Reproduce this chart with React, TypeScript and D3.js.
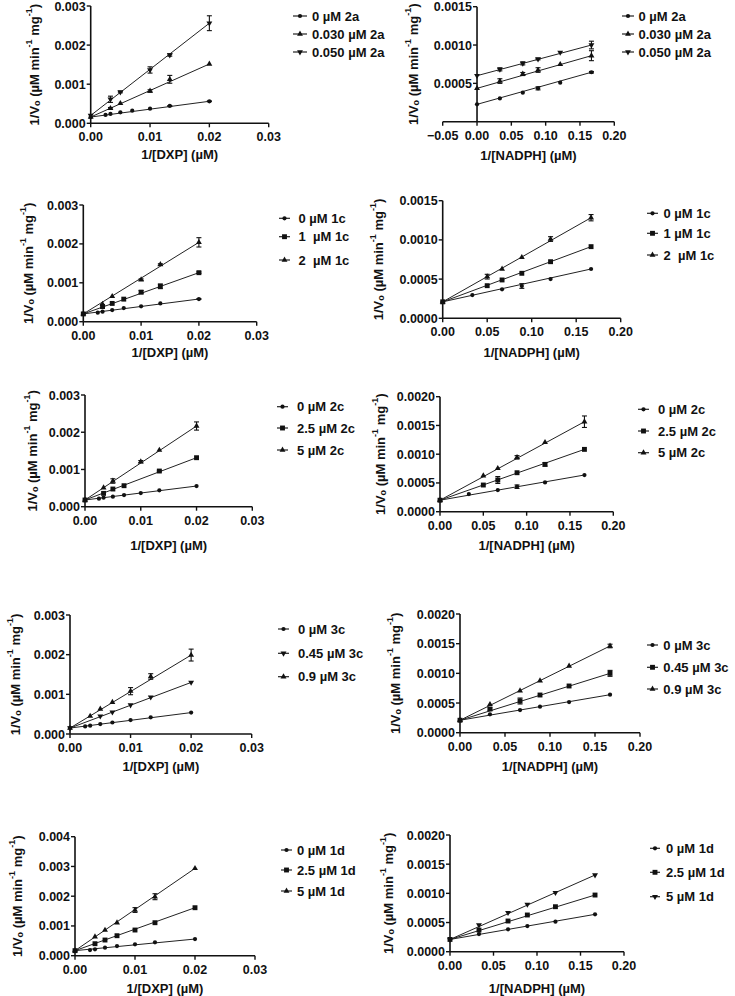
import React from 'react';
import * as d3 from 'd3';

// ---------- shared x values ----------
const dxpX7 = [0.0025, 0.00333, 0.005, 0.007, 0.01, 0.01333, 0.02];
const dxpX6 = [0.00333, 0.005, 0.007, 0.01, 0.01333, 0.02];
const dxpX5 = [0.00333, 0.005, 0.01, 0.01333, 0.02];
const dxpX5b = [0.00333, 0.005, 0.007, 0.01333, 0.02];
const dxpX5c = [0.005, 0.007, 0.01, 0.01333, 0.02];
const nadX5 = [0.0333, 0.0667, 0.0889, 0.1212, 0.1667];
const nadX5b = [0.05, 0.0667, 0.0889, 0.1212, 0.1667];

// ---------- tick values ----------
const dxpTicks = [0, 0.01, 0.02, 0.03];
const nadTicks = [0, 0.05, 0.1, 0.15, 0.2];
const nadTicksNeg = [-0.05, 0, 0.05, 0.1, 0.15, 0.2];
const yTicks003 = [0, 0.001, 0.002, 0.003];
const yTicks004 = [0, 0.001, 0.002, 0.003, 0.004];
const yTicks0015 = [0, 0.0005, 0.001, 0.0015];
const yTicks0015b = [0.0005, 0.001, 0.0015];
const yTicks002 = [0, 0.0005, 0.001, 0.0015, 0.002];

type Series = { label: string; x: number[]; y: number[]; err: number[]; y0: number };

// ---------- panel 1: DXP, 2a ----------
const p1Series: Series[] = [
  { label: '0 µM 2a', x: dxpX7, y: [0.000213, 0.000239, 0.000281, 0.000324, 0.000375, 0.000443, 0.000563], err: [0, 0, 0, 0, 0, 0.00001, 0.00001], y0: 0.00016 },
  { label: '0.030 µM 2a', x: dxpX5, y: [0.000384, 0.000511, 0.000827, 0.001125, 0.001517], err: [0.00002, 0, 0.00003, 0.0001, 0], y0: 0.00016 },
  { label: '0.050 µM 2a', x: dxpX5, y: [0.000614, 0.0008, 0.001364, 0.001747, 0.00256], err: [0.00008, 0.00002, 0.00008, 0.00003, 0.00019], y0: 0.0002 },
];
// ---------- panel 2: NADPH, 2a ----------
const p2Series: Series[] = [
  { label: '0 µM 2a', x: nadX5, y: [0.000304, 0.000378, 0.000435, 0.000509, 0.000645], err: [0, 0, 0.00002, 0, 0.00001], y0: 0.000226 },
  { label: '0.030 µM 2a', x: nadX5, y: [0.00053, 0.000622, 0.000674, 0.000748, 0.000861], err: [0.00003, 0.00002, 0.00003, 0, 0.000065], y0: 0.000435 },
  { label: '0.050 µM 2a', x: nadX5, y: [0.000683, 0.000761, 0.000817, 0.000904, 0.001], err: [0.00002, 0.00002, 0.00001, 0, 0.00005], y0: 0.0006 },
];
// ---------- panel 3: DXP, 1c ----------
const p3Series: Series[] = [
  { label: '0 µM 1c', x: dxpX7, y: [0.000231, 0.000257, 0.0003, 0.000351, 0.000394, 0.000471, 0.000583], err: [0, 0, 0, 0, 0, 0, 0.00001], y0: 0.0002 },
  { label: '1  µM 1c', x: dxpX6, y: [0.00039, 0.00047, 0.00058, 0.00076, 0.00091, 0.00126], err: [0.00004, 0, 0, 0.00004, 0.00006, 0.00002], y0: 0.0002 },
  { label: '2  µM 1c', x: dxpX5, y: [0.00045, 0.00065, 0.00108, 0.00147, 0.00204], err: [0, 0, 0.00002, 0.00002, 0.00012], y0: 0.0002 },
];
// ---------- panel 4: NADPH, 1c ----------
const p4Series: Series[] = [
  { label: '0 µM 1c', x: nadX5, y: [0.000297, 0.00037, 0.000412, 0.000501, 0.000629], err: [0, 0, 0.00003, 0, 0], y0: 0.00021 },
  { label: '1 µM 1c', x: nadX5b, y: [0.000416, 0.000489, 0.000574, 0.000722, 0.000914], err: [0, 0, 0, 0, 0], y0: 0.00021 },
  { label: '2  µM 1c', x: nadX5b, y: [0.000531, 0.000629, 0.000778, 0.001011, 0.001283], err: [0.00003, 0, 0, 0.00003, 0.00004], y0: 0.00021 },
];
// ---------- panel 5: DXP, 2c ----------
const p5Series: Series[] = [
  { label: '0 µM 2c', x: dxpX7, y: [0.000215, 0.000242, 0.000269, 0.000313, 0.000367, 0.000439, 0.000555], err: [0, 0, 0, 0, 0, 0, 0], y0: 0.00018 },
  { label: '2.5 µM 2c', x: dxpX5b, y: [0.000358, 0.000475, 0.000564, 0.000958, 0.001316], err: [0, 0, 0, 0.00002, 0], y0: 0.00018 },
  { label: '5 µM 2c', x: dxpX5, y: [0.00051, 0.00069, 0.001209, 0.001522, 0.002167], err: [0, 0.00006, 0.00003, 0, 0.00011], y0: 0.00018 },
];
// ---------- panel 6: NADPH, 2c ----------
const p6Series: Series[] = [
  { label: '0 µM 2c', x: nadX5, y: [0.000307, 0.000377, 0.000435, 0.00051, 0.000638], err: [0, 0, 0.00003, 0, 0], y0: 0.0002 },
  { label: '2.5 µM 2c', x: nadX5b, y: [0.000464, 0.000551, 0.000678, 0.000823, 0.001084], err: [0, 0.00006, 0, 0.00003, 0], y0: 0.0002 },
  { label: '5 µM 2c', x: nadX5b, y: [0.000626, 0.000754, 0.000945, 0.001206, 0.001565], err: [0, 0, 0.00003, 0, 0.0001], y0: 0.0002 },
];
// ---------- panel 7: DXP, 3c ----------
const p7Series: Series[] = [
  { label: '0 µM 3c', x: dxpX7, y: [0.00019, 0.00021, 0.00025, 0.00029, 0.00035, 0.00042, 0.00054], err: [0, 0, 0, 0, 0, 0, 0], y0: 0.00015 },
  { label: '0.45 µM 3c', x: dxpX5c, y: [0.00045, 0.00055, 0.00073, 0.00093, 0.0013], err: [0, 0, 0, 0, 0], y0: 0.00015 },
  { label: '0.9 µM 3c', x: dxpX6, y: [0.00045, 0.00063, 0.0008, 0.00108, 0.00145, 0.00199], err: [0, 0, 0, 0.00009, 0.00007, 0.00015], y0: 0.00015 },
];
// ---------- panel 8: NADPH, 3c ----------
const p8Series: Series[] = [
  { label: '0 µM 3c', x: nadX5, y: [0.000309, 0.000382, 0.000438, 0.000517, 0.00064], err: [0, 0, 0, 0, 0], y0: 0.00021 },
  { label: '0.45 µM 3c', x: nadX5, y: [0.000399, 0.000534, 0.000635, 0.000787, 0.001], err: [0.00002, 0.00005, 0, 0, 0.00005], y0: 0.00021 },
  { label: '0.9 µM 3c', x: nadX5, y: [0.000478, 0.000708, 0.000876, 0.001124, 0.001461], err: [0, 0, 0, 0, 0.00003], y0: 0.00021 },
];
// ---------- panel 9: DXP, 1d ----------
const p9Series: Series[] = [
  { label: '0 µM 1d', x: dxpX7, y: [0.00019, 0.000213, 0.000269, 0.000325, 0.000381, 0.000448, 0.00056], err: [0, 0, 0, 0, 0, 0, 0], y0: 0.00017 },
  { label: '2.5 µM 1d', x: dxpX6, y: [0.000403, 0.000527, 0.000672, 0.000863, 0.001109, 0.001613], err: [0, 0, 0, 0, 0, 0], y0: 0.00017 },
  { label: '5 µM 1d', x: dxpX6, y: [0.000639, 0.000863, 0.001109, 0.001535, 0.001983, 0.002936], err: [0, 0, 0, 0.00008, 0.0001, 0], y0: 0.00017 },
];
// ---------- panel 10: NADPH, 1d ----------
const p10Series: Series[] = [
  { label: '0 µM 1d', x: nadX5, y: [0.000303, 0.000383, 0.00044, 0.000514, 0.00064], err: [0, 0, 0, 0, 0], y0: 0.00021 },
  { label: '2.5 µM 1d', x: nadX5, y: [0.000371, 0.000526, 0.000629, 0.000771, 0.000971], err: [0, 0, 0, 0, 0], y0: 0.00021 },
  { label: '5 µM 1d', x: nadX5, y: [0.000457, 0.000669, 0.000811, 0.001011, 0.001314], err: [0, 0, 0, 0, 0], y0: 0.00021 },
];

// ---------- marker shapes (style) ----------
const shapesA = ['circle', 'up', 'down'];
const shapesB = ['circle', 'square', 'up'];
const shapesC = ['circle', 'down', 'up'];
const shapesD = ['circle', 'square', 'down'];

// ---------- layout ----------
type Panel = {
  series: Series[]; shapes: string[]; xTitle: string;
  xd: number[]; xr: number[]; yd: number[]; yr: number[];
  xTicks: number[]; yTicks: number[]; xFmt: string; yFmt: string;
  yTitleX: number; xTitleY: number; legLine: number[]; legText: number; legRows: number[];
};

const DXP = '1/[DXP] (µM)';
const NAD = '1/[NADPH] (µM)';

const panels: Panel[] = [
  { series: p1Series, shapes: shapesA, xTitle: DXP, xd: [0, 0.03], xr: [90.7, 268.7], yd: [0, 0.003], yr: [123.3, 6], xTicks: dxpTicks, yTicks: yTicks003, xFmt: '.2f', yFmt: '.3f', yTitleX: 34, xTitleY: 154, legLine: [293, 307], legText: 312, legRows: [16, 34, 52] },
  { series: p2Series, shapes: shapesA, xTitle: NAD, xd: [-0.05, 0.2], xr: [442.7, 614.3], yd: [0, 0.0015], yr: [121.7, 6.7], xTicks: nadTicksNeg, yTicks: yTicks0015b, xFmt: '.2f', yFmt: '.4f', yTitleX: 413, xTitleY: 155, legLine: [622, 634], legText: 638.5, legRows: [16, 34, 52] },
  { series: p3Series, shapes: shapesB, xTitle: DXP, xd: [0, 0.03], xr: [83.3, 256.7], yd: [0, 0.003], yr: [321.7, 205], xTicks: dxpTicks, yTicks: yTicks003, xFmt: '.2f', yFmt: '.3f', yTitleX: 28, xTitleY: 352, legLine: [279, 290], legText: 298.5, legRows: [218.3, 236.7, 260] },
  { series: p4Series, shapes: shapesB, xTitle: NAD, xd: [0, 0.2], xr: [442.7, 620.7], yd: [0, 0.0015], yr: [318.3, 200.7], xTicks: nadTicks, yTicks: yTicks0015, xFmt: '.2f', yFmt: '.4f', yTitleX: 378, xTitleY: 352, legLine: [647, 658], legText: 663.5, legRows: [213.3, 233.3, 255] },
  { series: p5Series, shapes: shapesB, xTitle: DXP, xd: [0, 0.03], xr: [85, 252.3], yd: [0, 0.003], yr: [506.7, 395], xTicks: dxpTicks, yTicks: yTicks003, xFmt: '.2f', yFmt: '.3f', yTitleX: 32, xTitleY: 545, legLine: [277, 288], legText: 297, legRows: [406.7, 428, 450] },
  { series: p6Series, shapes: shapesB, xTitle: NAD, xd: [0, 0.2], xr: [440, 613.3], yd: [0, 0.002], yr: [511.7, 396.7], xTicks: nadTicks, yTicks: yTicks002, xFmt: '.2f', yFmt: '.4f', yTitleX: 380, xTitleY: 545, legLine: [638, 649], legText: 658, legRows: [409.3, 431, 452.7] },
  { series: p7Series, shapes: shapesC, xTitle: DXP, xd: [0, 0.03], xr: [70, 251.7], yd: [0, 0.003], yr: [734, 615], xTicks: dxpTicks, yTicks: yTicks003, xFmt: '.2f', yFmt: '.3f', yTitleX: 15, xTitleY: 766, legLine: [278, 289], legText: 298, legRows: [629, 653.3, 676.7] },
  { series: p8Series, shapes: shapesB, xTitle: NAD, xd: [0, 0.2], xr: [460, 640], yd: [0, 0.002], yr: [732.7, 614], xTicks: nadTicks, yTicks: yTicks002, xFmt: '.2f', yFmt: '.4f', yTitleX: 395, xTitleY: 766, legLine: [647, 658], legText: 663.3, legRows: [645, 667.3, 689] },
  { series: p9Series, shapes: shapesB, xTitle: DXP, xd: [0, 0.03], xr: [75, 255], yd: [0, 0.004], yr: [955.7, 836.7], xTicks: dxpTicks, yTicks: yTicks004, xFmt: '.2f', yFmt: '.3f', yTitleX: 17, xTitleY: 988.5, legLine: [281, 292], legText: 297, legRows: [850, 870, 891] },
  { series: p10Series, shapes: shapesD, xTitle: NAD, xd: [0, 0.2], xr: [450, 624], yd: [0, 0.002], yr: [951.7, 835], xTicks: nadTicks, yTicks: yTicks002, xFmt: '.2f', yFmt: '.4f', yTitleX: 388, xTitleY: 988.5, legLine: [650, 660], legText: 666, legRows: [848.3, 872.3, 896.7] },
];

const FONT = "'Liberation Sans', Arial, Helvetica, sans-serif";

function symbolPath(shape: string): { d: string; rot: number } {
  if (shape === 'circle') return { d: d3.symbol(d3.symbolCircle, 14)() as string, rot: 0 };
  if (shape === 'square') return { d: d3.symbol(d3.symbolSquare, 24)() as string, rot: 0 };
  if (shape === 'up') return { d: d3.symbol(d3.symbolTriangle, 15)() as string, rot: 0 };
  return { d: d3.symbol(d3.symbolTriangle, 15)() as string, rot: 180 };
}

function Marker({ shape, x, y }: { shape: string; x: number; y: number }) {
  const s = symbolPath(shape);
  return <path d={s.d} transform={`translate(${x},${y}) rotate(${s.rot})`} fill="#111" />;
}

function YTitle({ x, y }: { x: number; y: number }) {
  return (
    <text transform={`translate(${x},${y}) rotate(-90)`} textAnchor="middle" dominantBaseline="central"
      fontFamily={FONT} fontWeight="bold" fontSize={13} fill="#111">
      <tspan>1/V</tspan>
      <tspan fontSize={9} dy={3}>o</tspan>
      <tspan dy={-3}> (µM min</tspan>
      <tspan fontSize={9} dy={-5}>-1</tspan>
      <tspan dy={5}> mg</tspan>
      <tspan fontSize={9} dy={-5}>-1</tspan>
      <tspan dy={5}>)</tspan>
    </text>
  );
}

function PanelView({ p }: { p: Panel }) {
  const xs = d3.scaleLinear().domain(p.xd).range(p.xr);
  const ys = d3.scaleLinear().domain(p.yd).range(p.yr);
  const ax = xs(0);
  const ay = ys(0);
  const xf = d3.format(p.xFmt);
  const yf = d3.format(p.yFmt);
  const line = d3.line<[number, number]>().x(d => xs(d[0])).y(d => ys(d[1]));
  const xMid = (p.xr[0] + p.xr[1]) / 2;
  const yMid = (p.yr[0] + p.yr[1]) / 2;
  return (
    <g>
      {/* fitted lines */}
      {p.series.map((s, i) => {
        const n = s.x.length - 1;
        return <path key={'l' + i} d={line([[0, s.y0], [s.x[n], s.y[n]]]) as string} stroke="#222" strokeWidth={1} fill="none" />;
      })}
      {/* error bars */}
      {p.series.map((s, i) => (
        <g key={'e' + i} stroke="#111" strokeWidth={1.1}>
          {s.x.map((xv, j) => s.err[j] > 0 ? (
            <g key={j}>
              <line x1={xs(xv)} x2={xs(xv)} y1={ys(s.y[j] - s.err[j])} y2={ys(s.y[j] + s.err[j])} />
              <line x1={xs(xv) - 2.5} x2={xs(xv) + 2.5} y1={ys(s.y[j] - s.err[j])} y2={ys(s.y[j] - s.err[j])} />
              <line x1={xs(xv) - 2.5} x2={xs(xv) + 2.5} y1={ys(s.y[j] + s.err[j])} y2={ys(s.y[j] + s.err[j])} />
            </g>
          ) : null)}
        </g>
      ))}
      {/* markers */}
      {p.series.map((s, i) => (
        <g key={'m' + i}>
          <Marker shape={p.shapes[i]} x={xs(0)} y={ys(s.y0)} />
          {s.x.map((xv, j) => <Marker key={j} shape={p.shapes[i]} x={xs(xv)} y={ys(s.y[j])} />)}
        </g>
      ))}
      {/* axes */}
      <line x1={p.xr[0]} x2={p.xr[1]} y1={ay} y2={ay} stroke="#111" strokeWidth={1.6} />
      <line x1={ax} x2={ax} y1={p.yr[0]} y2={p.yr[1]} stroke="#111" strokeWidth={1.6} />
      {p.xTicks.map((t, i) => (
        <g key={'xt' + i}>
          <line x1={xs(t)} x2={xs(t)} y1={ay} y2={ay + 4} stroke="#111" strokeWidth={1.4} />
          <text x={xs(t)} y={ay + 18} textAnchor="middle" fontFamily={FONT} fontWeight="bold" fontSize={12.5} fill="#111">{xf(t)}</text>
        </g>
      ))}
      {p.yTicks.map((t, i) => (
        <g key={'yt' + i}>
          <line x1={ax - 4} x2={ax} y1={ys(t)} y2={ys(t)} stroke="#111" strokeWidth={1.4} />
          <text x={ax - 5} y={ys(t)} dy="0.36em" textAnchor="end" fontFamily={FONT} fontWeight="bold" fontSize={12.5} fill="#111">{yf(t)}</text>
        </g>
      ))}
      {/* titles */}
      <text x={xMid} y={p.xTitleY} dy="0.36em" textAnchor="middle" fontFamily={FONT} fontWeight="bold" fontSize={13} fill="#111">{p.xTitle}</text>
      <YTitle x={p.yTitleX} y={yMid} />
      {/* legend */}
      {p.series.map((s, i) => {
        const ly = p.legRows[i];
        const cx = (p.legLine[0] + p.legLine[1]) / 2;
        return (
          <g key={'lg' + i}>
            <line x1={p.legLine[0]} x2={p.legLine[1]} y1={ly} y2={ly} stroke="#222" strokeWidth={1.2} />
            <Marker shape={p.shapes[i]} x={cx} y={ly} />
            <text x={p.legText} y={ly} dy="0.36em" fontFamily={FONT} fontWeight="bold" fontSize={13} fill="#111" style={{ whiteSpace: 'pre' }}>{s.label}</text>
          </g>
        );
      })}
    </g>
  );
}

export default function App() {
  return (
    <svg width={735} height={996} viewBox="0 0 735 996" style={{ position: 'absolute', left: 0, top: 0, background: '#fff' }}>
      <rect width={735} height={996} fill="#fff" />
      {panels.map((p, i) => <PanelView key={i} p={p} />)}
    </svg>
  );
}
